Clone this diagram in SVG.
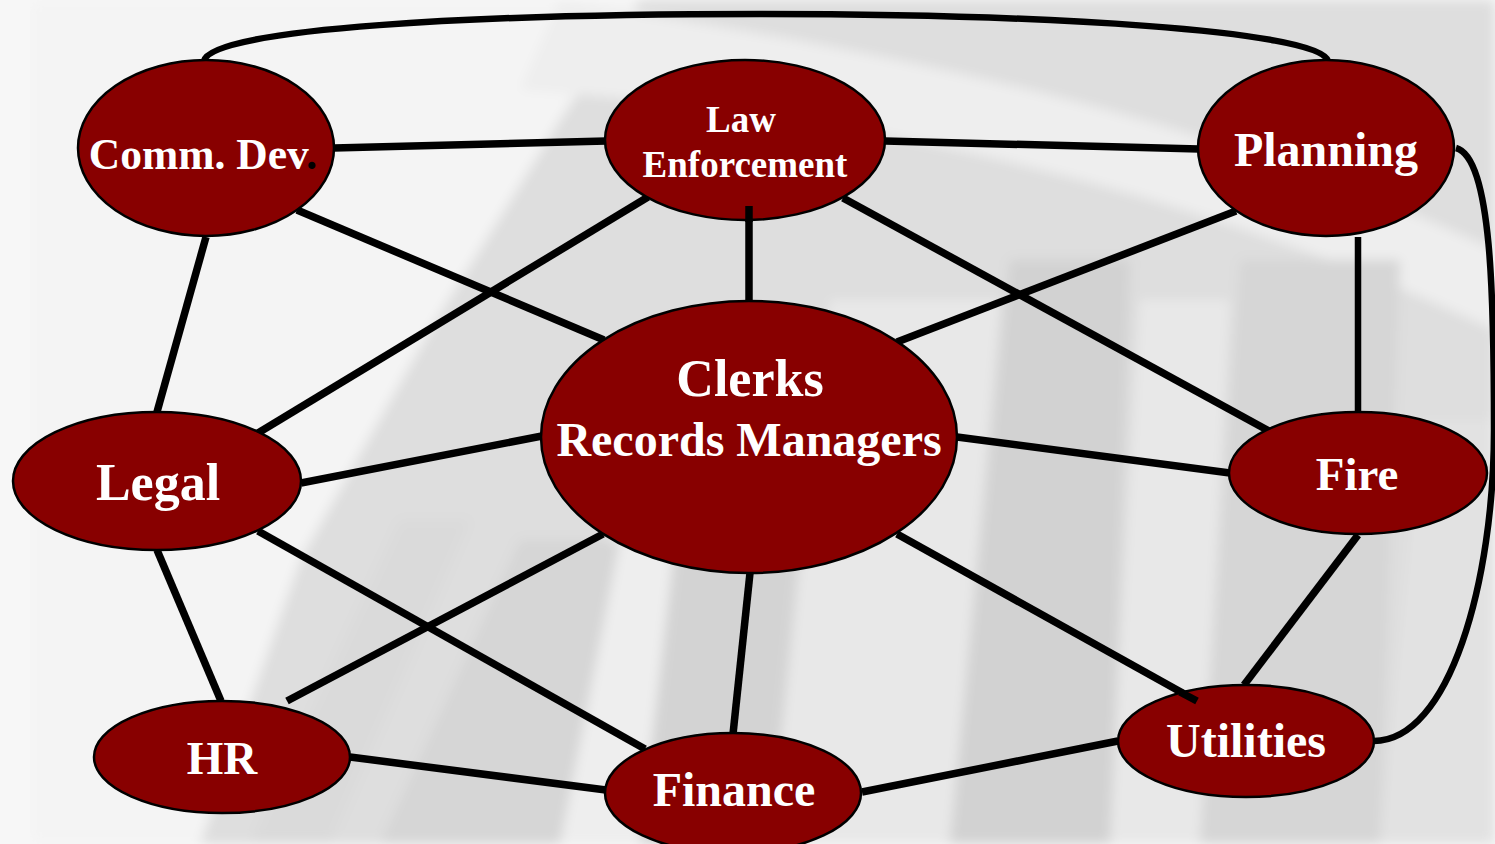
<svg xmlns="http://www.w3.org/2000/svg" width="1495" height="844" viewBox="0 0 1495 844">
  <defs>
    <filter id="soft" x="-5%" y="-5%" width="110%" height="110%">
      <feGaussianBlur stdDeviation="6"/>
    </filter>
    <style>
      .node ellipse { fill: #880000; stroke: #000; stroke-width: 2.5; }
      .node text { fill: #fff; font-family: "Liberation Serif", "Times New Roman", serif; font-weight: bold; text-anchor: middle; }
      .link { fill: none; stroke: #000; stroke-width: 7.5; stroke-linecap: butt; }
      .thin { stroke-width: 6.5; }
    </style>
  </defs>

  <!-- Backdrop: pale photo of leaning columns -->
  <g id="backdrop">
    <rect x="0" y="0" width="1495" height="844" fill="#f7f7f7"/>
    <g filter="url(#soft)">
      <rect x="30" y="0" width="1465" height="844" fill="#dedede"/>
      <!-- bright sky area upper left -->
      <polygon points="30,0 640,0 560,120 430,330 300,560 200,844 30,844" fill="#f4f4f4"/>
      <!-- sweeping bright arc across the top -->
      <path d="M560,0 C800,40 1150,90 1495,250 L1495,330 C1150,170 820,110 520,90 Z" fill="#eeeeee"/>
      <!-- column shafts, leaning right -->
      <polygon points="560,844 640,844 700,330 640,330" fill="#eeeeee"/>
      <polygon points="640,844 770,844 820,330 700,330" fill="#d3d3d3"/>
      <polygon points="770,844 950,844 1000,300 830,300" fill="#e8e8e8"/>
      <polygon points="950,844 1110,844 1130,260 1010,260" fill="#d2d2d2"/>
      <polygon points="1110,844 1200,844 1230,300 1140,300" fill="#e8e8e8"/>
      <polygon points="1200,844 1380,844 1400,260 1240,260" fill="#d6d6d6"/>
      <polygon points="1380,844 1495,844 1495,420 1420,420" fill="#e2e2e2"/>
      <polygon points="250,844 330,844 470,520 400,520" fill="#dadada"/>
      <polygon points="380,844 560,844 620,540 520,540" fill="#d6d6d6"/>
    </g>
    <rect x="0" y="0" width="30" height="844" fill="#f7f7f7"/>
  </g>

  <!-- Connectors -->
  <g id="connectors">
    <path class="link thin" d="M204,61 C210,28 480,14 760,14 C1040,14 1320,30 1328,61"/>
    <path class="link thin" d="M1456,148 C1492,158 1494,300 1494,430 C1494,580 1450,742 1373,741"/>
    <line class="link" x1="334" y1="148" x2="606" y2="141"/>
    <line class="link" x1="885" y1="141" x2="1199" y2="149"/>
    <line class="link" x1="297" y1="210" x2="604" y2="340"/>
    <line class="link" x1="648" y1="197" x2="258" y2="433"/>
    <line class="link" x1="749" y1="206" x2="749" y2="301"/>
    <line class="link" x1="843" y1="198" x2="1269" y2="431"/>
    <line class="link" x1="1236" y1="211" x2="897" y2="342"/>
    <line class="link thin" x1="1358" y1="237" x2="1358" y2="412"/>
    <line class="link" x1="206" y1="237" x2="157" y2="412"/>
    <line class="link" x1="301" y1="483" x2="542" y2="436"/>
    <line class="link" x1="957" y1="437" x2="1230" y2="473"/>
    <line class="link" x1="157" y1="550" x2="221" y2="701"/>
    <line class="link" x1="258" y1="531" x2="645" y2="749"/>
    <line class="link" x1="603" y1="534" x2="287" y2="701"/>
    <line class="link" x1="750" y1="573" x2="733" y2="734"/>
    <line class="link" x1="897" y1="534" x2="1197" y2="701"/>
    <line class="link" x1="1358" y1="535" x2="1244" y2="685"/>
    <line class="link" x1="350" y1="757" x2="606" y2="790"/>
    <line class="link" x1="862" y1="792" x2="1118" y2="741"/>
  </g>

  <!-- Nodes -->
  <g id="comm-dev" class="node">
    <ellipse cx="206" cy="148" rx="128" ry="88"/>
    <text x="203" y="169" font-size="43.5">Comm. Dev<tspan fill="#000">.</tspan></text>
  </g>
  <g id="law-enforcement" class="node">
    <ellipse cx="745" cy="140" rx="140" ry="80"/>
    <text x="741" y="132" font-size="37">Law</text>
    <text x="745" y="177" font-size="37">Enforcement</text>
  </g>
  <g id="planning" class="node">
    <ellipse cx="1326" cy="148" rx="128" ry="88"/>
    <text x="1326" y="166" font-size="48">Planning</text>
  </g>
  <g id="clerks" class="node">
    <ellipse cx="749" cy="437" rx="208" ry="136"/>
    <text x="750" y="396" font-size="52">Clerks</text>
    <text x="749" y="456" font-size="48">Records Managers</text>
  </g>
  <g id="legal" class="node">
    <ellipse cx="157" cy="481" rx="144" ry="69"/>
    <text x="158" y="500" font-size="52">Legal</text>
  </g>
  <g id="fire" class="node">
    <ellipse cx="1358" cy="473" rx="129" ry="61"/>
    <text x="1357" y="490" font-size="47">Fire</text>
  </g>
  <g id="hr" class="node">
    <ellipse cx="222" cy="757" rx="128" ry="56"/>
    <text x="222" y="774" font-size="47">HR</text>
  </g>
  <g id="finance" class="node">
    <ellipse cx="733" cy="793" rx="128" ry="60"/>
    <text x="734" y="806" font-size="48">Finance</text>
  </g>
  <g id="utilities" class="node">
    <ellipse cx="1246" cy="741" rx="128" ry="56"/>
    <text x="1246" y="757" font-size="48">Utilities</text>
  </g>

  <!-- Two spokes run onto the ellipses they touch -->
  <g id="overlaps">
    <line class="link" x1="749" y1="206" x2="749" y2="222"/>
    <line class="link" x1="1180" y1="692" x2="1197" y2="701"/>
  </g>
</svg>
